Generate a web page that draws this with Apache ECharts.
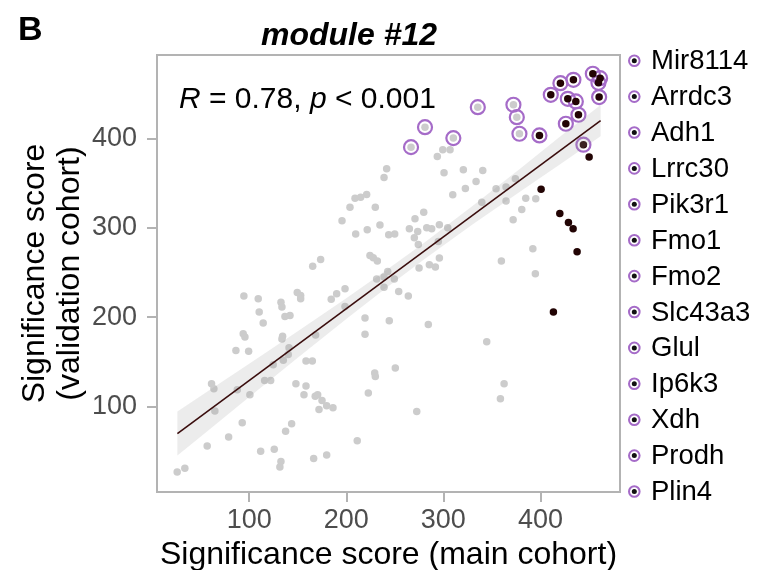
<!DOCTYPE html>
<html>
<head>
<meta charset="utf-8">
<script src="https://cdn.jsdelivr.net/npm/echarts@6/dist/echarts.min.js"></script>
<style>
  html, body { margin: 0; padding: 0; background: #ffffff; }
  #chart { width: 759px; height: 570px; }
</style>
</head>
<body>
<div id="chart"></div>
<script>
// Significance scores of module #12 genes: [main cohort, validation cohort]
const grayPoints = [
  [241.6,366.5],[238.9,356.7],[221,337.7],[214.8,334.6],[209,333.5],
  [203.8,323.4],[229.9,323.4],[195.6,308.2],[234.7,303.3],[221.6,298.1],[209.7,293.2],
  [243.7,292.5],[249.9,293.2],[224.4,269.3],[227.8,266.7],[232,262.9],[173.6,264.8],
  [165.4,257],[242.7,251.3],[231.3,242.7],[249.5,242.7],[238.9,233.7],[254,228.9],
  [94.5,223.7],[109.3,220.7],[198.7,231.9],[190.1,226.3],[184.5,220],[149.5,227.8],
  [153,224.4],[153,220.7],[132.7,216.9],[133.7,211.3],[110.3,205.7],[136.8,200.9],
  [142,202],[114.4,193.4],[198.7,212.1],[219.3,199],[244.3,196.1],[219.3,181],
  [93.8,181.5],[95.6,177.7],[134.4,178.5],[133.7,175.5],[168.4,180],[86.3,162.8],
  [99.4,161.7],[141,165.8],[140.2,158.3],[135.1,151.6],[124.7,146.7],[158.5,150.8],
  [165,150.8],[115.9,129.1],[122.1,129.1],[61.2,125.4],[63.6,119.8],[87.7,118.7],
  [100.7,113.1],[148.1,125.4],[158.5,122.8],[156.4,113.1],[168,111.5],[170.5,113.1],
  [175,106.7],[179.8,100.8],[186.3,98.5],[171.9,96.6],[64.6,94.7],[92.8,81.7],
  [143.7,80.6],[137.5,72],[78.8,65.6],[56.7,55.5],[111.8,49.6],[125.8,51.8],
  [132.7,38.3],[131.6,32],[166.4,41.7],[179.8,45.4],[25.8,26.3],[33.7,30.5],
  [211.3,61.5],[222.7,114.9],[229.3,137.3],[229.9,133.6],[250.5,142.9],
  [344.7,172.5],[362.6,125.4],[358.8,108.6],[272.6,94.4],
  [309.7,337.3],[322.7,344.4],[333.7,352.2],[354.3,344],[364.6,345.9],[374.2,355.3],
  [384.9,333.5],[395.2,332.8],[339.6,329],[364.6,330.2],[380.8,320.9],[371.9,309.3],
  [279.8,317.8],[270.8,310.4],[265,299.2],[273.6,296.2],[282.9,300.3],[288,299.2],
  [295.9,303.7],[304.5,300.3],[270.1,289.1],[274.2,281.6],[294.8,285],[295.9,266.3],
  [285.6,258.9],[291.8,256.2],[275,255.1],[238.9,245],[263.9,223.7],[392.2,276.8],
  [359.8,262.9],[394.8,248.8],[284.5,191.9],
  [299.4,387.8],[306.9,387.8],[293.8,380.3],[300.7,362],[320.6,365.4],[340.6,364.6]
];
const ringedGrayPoints = [
  [266.7,390.7],[281.1,413.1],[310.3,400.8],[335.5,435.5],[372.2,438.2],[375.7,424.3],[378.4,405.7]
];
const darkPoints = [
  [450.2,379.5],[400.7,343.5],[420,316.4],[428.9,306.3],[433.7,299.2],[437.8,273.4],[413.4,205.7]
];
const ringedDarkPoints = [
  [399,403.8],[410.7,449.4],[420.6,462.4],[434,466.2],[454,473],[461.5,468],[459.8,462.9],
  [460.5,446.8],[428.2,444.9],[436.5,441.9],[439.2,427],[426.2,416.9],[444.3,393.4]
];

// Linear fit and its confidence band
const fitX = [26, 462];
const fitY = [69.5, 420.5];
const bandX    = [26,    60,    100,   150,   200,   240,   280,   330,   380,   420,   462];
const bandLow  = [44.8,  75,    110.4, 154.5, 197.9, 231.9, 264.8, 304,   341.6, 371.1, 403];
const bandHigh = [94.2,  118.8, 147.8, 184.3, 221.3, 251.7, 283.2, 324.6, 367.4, 402.3, 438];

const xTicks = [100, 200, 300, 400];
const yTicks = [100, 200, 300, 400];
const genes = ['Mir8114','Arrdc3','Adh1','Lrrc30','Pik3r1','Fmo1','Fmo2','Slc43a3','Glul','Ip6k3','Xdh','Prodh','Plin4'];

const FONT = '"Liberation Sans", Arial, Helvetica, sans-serif';
const AXIS_GRAY = '#b3b3b3';
const DOT_GRAY = '#cccccc';
const DARK = '#220404';
const PURPLE = '#a56bc8';

const chart = echarts.init(document.getElementById('chart'), null, { renderer: 'canvas' });

// Gene key on the right: ring + dot + name
const keyGraphics = [];
genes.forEach((g, i) => {
  const cy = 60.7 + i * 35.9;
  keyGraphics.push({
    type: 'circle', shape: { cx: 634.3, cy: cy, r: 5.3 },
    style: { fill: null, stroke: PURPLE, lineWidth: 2 }, silent: true
  });
  keyGraphics.push({
    type: 'circle', shape: { cx: 634.3, cy: cy, r: 2.5 },
    style: { fill: '#111111' }, silent: true
  });
  keyGraphics.push({
    type: 'text', x: 651, y: cy + 1,
    style: { text: g, fill: '#000000', font: '27.5px ' + FONT, textVerticalAlign: 'middle', textAlign: 'left' },
    silent: true
  });
});

const option = {
  animation: false,
  textStyle: { fontFamily: FONT },
  title: [
    { text: 'B', left: 13, top: 9, textStyle: { fontSize: 34, fontWeight: 'bold', color: '#000', fontFamily: FONT } },
    { text: 'module #12', left: 256, top: 15,
      textStyle: { fontSize: 32, fontWeight: 'bold', fontStyle: 'italic', color: '#000', fontFamily: FONT } },
    { text: '{i|R} = 0.78, {i|p} < 0.001', left: 174, top: 80,
      textStyle: { fontSize: 30, fontWeight: 'normal', color: '#000', fontFamily: FONT,
        rich: { i: { fontStyle: 'italic', fontSize: 30, fontFamily: FONT, color: '#000' } } } }
  ],
  grid: { left: 157, right: 139, top: 55, bottom: 78, show: true, borderColor: AXIS_GRAY, borderWidth: 2,
          backgroundColor: '#fff', containLabel: false, outerBoundsMode: 'none' },
  xAxis: {
    type: 'value', min: 5, max: 482,
    splitLine: { show: false },
    axisLine: { show: true, onZero: false, lineStyle: { color: AXIS_GRAY, width: 2 } },
    axisTick: { show: true, length: 10, customValues: xTicks, lineStyle: { color: AXIS_GRAY, width: 2 } },
    axisLabel: { customValues: xTicks, fontSize: 27, color: '#4d4d4d', margin: 15, fontFamily: FONT },
    name: 'Significance score (main cohort)', nameLocation: 'middle', nameGap: 47,
    nameTextStyle: { fontSize: 32, color: '#000', fontFamily: FONT }
  },
  yAxis: {
    type: 'value', min: 4, max: 494,
    splitLine: { show: false },
    axisLine: { show: true, onZero: false, lineStyle: { color: AXIS_GRAY, width: 2 } },
    axisTick: { show: true, length: 10, customValues: yTicks, lineStyle: { color: AXIS_GRAY, width: 2 } },
    axisLabel: { customValues: yTicks, fontSize: 27, color: '#4d4d4d', margin: 20, fontFamily: FONT },
    name: 'Significance score\n(validation cohort)', nameLocation: 'middle', nameRotate: 90, nameGap: 69,
    nameMoveOverlap: false,
    nameTextStyle: { fontSize: 32, color: '#000', lineHeight: 35, fontFamily: FONT }
  },
  graphic: keyGraphics,
  series: [
    { type: 'scatter', name: 'genes', data: grayPoints.concat(ringedGrayPoints), symbolSize: 7.5,
      itemStyle: { color: DOT_GRAY, opacity: 1 }, z: 2, silent: true },
    { type: 'scatter', name: 'labelled', data: ringedGrayPoints.concat(ringedDarkPoints), symbolSize: 14,
      itemStyle: { color: 'rgba(0,0,0,0)', borderColor: PURPLE, borderWidth: 2.2, opacity: 1 }, z: 3, silent: true },
    { type: 'scatter', name: 'top genes', data: darkPoints.concat(ringedDarkPoints), symbolSize: 7.5,
      itemStyle: { color: DARK, opacity: 1 }, z: 4, silent: true },
    { type: 'custom', name: 'band', z: 5, silent: true, clip: true,
      data: [[bandX[0], bandLow[0]]],
      renderItem: function (params, api) {
        const pts = [];
        for (let i = 0; i < bandX.length; i++) pts.push(api.coord([bandX[i], bandHigh[i]]));
        for (let i = bandX.length - 1; i >= 0; i--) pts.push(api.coord([bandX[i], bandLow[i]]));
        return { type: 'polygon', shape: { points: pts }, style: { fill: 'rgba(160,160,160,0.2)' } };
      }
    },
    { type: 'line', name: 'fit', data: fitX.map((x, i) => [x, fitY[i]]), symbol: 'none', z: 6, silent: true,
      lineStyle: { color: '#3a0d0d', width: 1.6 } }
  ]
};
chart.setOption(option);
</script>
</body>
</html>
